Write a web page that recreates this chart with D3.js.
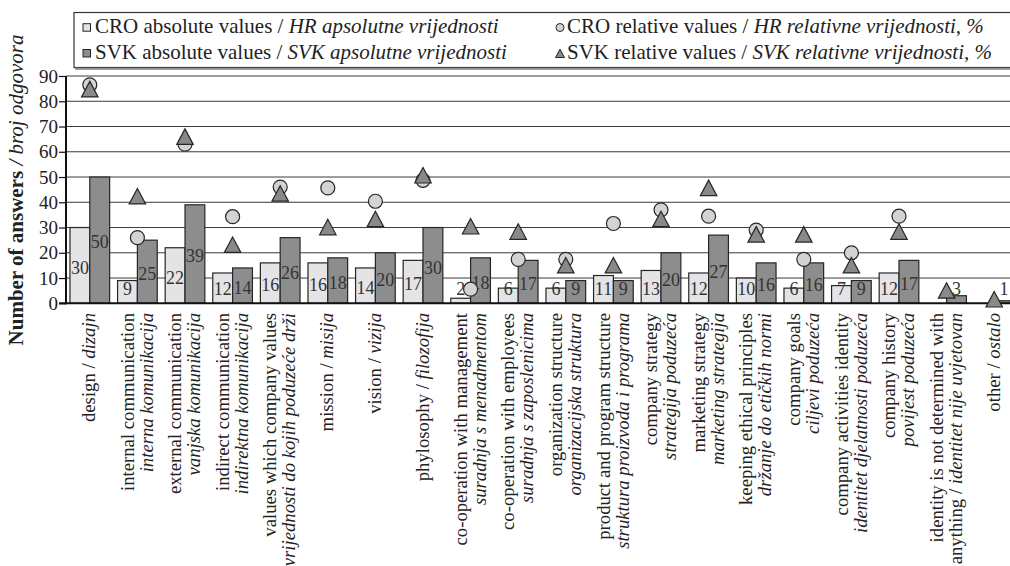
<!DOCTYPE html>
<html><head><meta charset="utf-8">
<script src="https://cdn.jsdelivr.net/npm/d3@7"></script>
<style>
body{margin:0;background:#fff}
svg{display:block}
text{font-family:"Liberation Serif","Times New Roman",serif;fill:#222}
</style>
</head><body>
<svg id="chart" width="1010" height="566"></svg>
<script>
// ---- data ----
const categories = ["design","internal communication","external communication","indirect communication","values","mission","vision","phylosophy","co-operation with management","co-operation with employees","organization structure","product and program structure","company strategy","marketing strategy","keeping ethical principles","company goals","company activities identity","company history","identity is not determined","other"];
// label lines; *...* marks italic (Croatian) text
const labelLine1 = ["design / *dizajn*","internal communication","external communication","indirect communication","values which company values","mission / *misija*","vision / *vizija*","phylosophy / *filozofija*","co-operation with management","co-operation with employees","organization structure","product and program structure","company strategy","marketing strategy","keeping ethical principles","company goals","company activities identity","company history","identity is not determined with","other / *ostalo*"];
const labelLine2 = ["","*interna komunikacija*","*vanjska komunikacija*","*indirektna komunikacija*","*vrijednosti do kojih poduzeće drži*","","","","*suradnja s menadmentom*","*suradnja s zaposlenicima*","*organizacijska struktura*","*struktura proizvoda i programa*","*strategija poduzeća*","*marketing strategija*","*držanje do etičkih normi*","*ciljevi poduzeća*","*identitet djelatnosti poduzeća*","*povijest poduzeća*","anything / *identitet nije uvjetovan*",""];
const croAbsolute = [30,9,22,12,16,16,14,17,2,6,6,11,13,12,10,6,7,12,0,0];
const svkAbsolute = [50,25,39,14,26,18,20,30,18,17,9,9,20,27,16,16,9,17,3,1];
const croRelative = [86.5,26,63,34.3,46,45.7,40.4,48.7,5.6,17.4,17.4,31.6,37,34.5,29,17.4,20,34.5,null,null];
const svkRelative = [84.8,42.4,66,23.2,43.5,30.2,33.4,50.7,30.5,28.4,15.1,15.1,33.4,45.7,27.3,27.3,15.1,28.4,5.1,1.6];
const yTicks = [0,10,20,30,40,50,60,70,80,90];
const seriesKeys = ["CRO","SVK"];
const legendLabels = [
  ["CRO absolute values / ","HR apsolutne vrijednosti"],
  ["SVK absolute values / ","SVK apsolutne vrijednosti"],
  ["CRO relative values / ","HR relativne vrijednosti, %"],
  ["SVK relative values / ","SVK relativne vrijednosti, %"]
];
const yTitle = ["Number of answers ","/ broj odgovora"];

// ---- layout ----
const svg = d3.select("#chart");
const mLeft = 66, mRight = 1018, mTop = 76, mBottom = 303.3;
const colCRO = "#e4e4e6", colSVK = "#8d8d8d", colCircle = "#d3d3d5", colTri = "#898989", strokeCol = "#262626";

const x = d3.scaleBand().domain(categories).range([mLeft, mRight]).padding(0);
const x1 = d3.scaleBand().domain(seriesKeys).range([0, x.bandwidth()]).paddingInner(0).paddingOuter(0.2);
const y = d3.scaleLinear().domain([0, 90]).range([mBottom, mTop]);

// gridlines
svg.append("g").selectAll("line").data(yTicks.filter(d => d > 0)).join("line")
  .attr("x1", mLeft).attr("x2", mRight).attr("y1", d => y(d)).attr("y2", d => y(d))
  .attr("stroke", "#3a3a3a").attr("stroke-width", 1);

// y axis
const yAxis = d3.axisLeft(y).tickValues(yTicks).tickSize(7).tickPadding(1).tickFormat(d3.format("d"));
const gy = svg.append("g").attr("transform", `translate(${mLeft},0)`).call(yAxis);
gy.select(".domain").remove();
gy.selectAll(".tick line").attr("stroke", "#111").attr("stroke-width", 1.2);
gy.selectAll(".tick text").attr("font-size", 19).attr("font-family", "Liberation Serif").attr("fill", "#222");
svg.append("line").attr("x1", mLeft).attr("x2", mLeft).attr("y1", mTop).attr("y2", mBottom + 1)
  .attr("stroke", "#111").attr("stroke-width", 2);

// bars
const bars = [];
categories.forEach((c, i) => {
  bars.push({c, k: "CRO", v: croAbsolute[i]});
  bars.push({c, k: "SVK", v: svkAbsolute[i]});
});
const gb = svg.append("g");
gb.selectAll("rect").data(bars.filter(d => d.v > 0)).join("rect")
  .attr("x", d => x(d.c) + x1(d.k))
  .attr("width", x1.bandwidth())
  .attr("y", d => y(d.v))
  .attr("height", d => y(0) - y(d.v))
  .attr("fill", d => d.k === "CRO" ? colCRO : colSVK)
  .attr("stroke", strokeCol).attr("stroke-width", 1.2);

// x axis line
svg.append("line").attr("x1", mLeft - 7).attr("x2", mRight).attr("y1", mBottom).attr("y2", mBottom)
  .attr("stroke", "#111").attr("stroke-width", 2);

// value labels
gb.selectAll("text").data(bars.filter(d => d.v > 0)).join("text")
  .attr("x", d => x(d.c) + x1(d.k) + x1.bandwidth() / 2)
  .attr("y", d => Math.min((y(d.v) + y(0)) / 2 + 2, 289))
  .attr("dy", "0.35em")
  .attr("text-anchor", "middle")
  .attr("font-size", 18)
  .style("fill", "#333")
  .text(d => d.v);

// markers
const cx = d => x(d.c) + x.bandwidth() / 2;
const circles = categories.map((c, i) => ({c, v: croRelative[i]})).filter(d => d.v !== null);
svg.append("g").selectAll("circle").data(circles).join("circle")
  .attr("cx", cx).attr("cy", d => y(d.v)).attr("r", 7)
  .attr("fill", colCircle).attr("stroke", strokeCol).attr("stroke-width", 1.2);
const tris = categories.map((c, i) => ({c, v: svkRelative[i]})).filter(d => d.v !== null);
const triPath = (w, h) => `M0,${-h/2}L${w/2},${h/2}L${-w/2},${h/2}Z`;
svg.append("g").selectAll("path").data(tris).join("path")
  .attr("transform", d => `translate(${cx(d)},${y(d.v)})`)
  .attr("d", triPath(16.5, 15.5))
  .attr("fill", colTri).attr("stroke", strokeCol).attr("stroke-width", 1.2);

// category labels
function addSegments(textSel, str) {
  const parts = str.split("*");
  parts.forEach((p, j) => {
    if (!p) return;
    textSel.append("tspan").attr("font-style", j % 2 === 1 ? "italic" : "normal").text(p);
  });
}
const fsX = 18.7;
categories.forEach((c, i) => {
  const cxp = x(c) + x.bandwidth() / 2;
  const g = svg.append("g").attr("transform", `translate(${cxp},313) rotate(-90)`);
  const two = labelLine2[i] !== "";
  const l1 = g.append("text").attr("text-anchor", "end").attr("font-size", fsX)
    .attr("x", 0).attr("y", two ? -3.9 : 5.6).style("fill", "#222");
  addSegments(l1, labelLine1[i]);
  if (two) {
    const l2 = g.append("text").attr("text-anchor", "end").attr("font-size", fsX)
      .attr("x", 0).attr("y", 15.1).style("fill", "#222");
    addSegments(l2, labelLine2[i]);
  }
});

// y title
const yt = svg.append("text").attr("transform", "translate(22.5,190) rotate(-90)")
  .attr("text-anchor", "middle").attr("font-size", 21);
yt.append("tspan").attr("font-weight", "bold").text(yTitle[0]);
yt.append("tspan").attr("font-style", "italic").text(yTitle[1]);

// legend
const lg = svg.append("g");
lg.append("rect").attr("x", 74).attr("y", 12.5).attr("width", 960).attr("height", 55)
  .attr("fill", "#fff").attr("stroke", "#333").attr("stroke-width", 1.2);
lg.append("line").attr("x1", 75).attr("x2", 1010).attr("y1", 68.8).attr("y2", 68.8)
  .attr("stroke", "#8a8a8a").attr("stroke-width", 2);
const legPos = [[95, 33.3], [95, 59.3], [567, 33.3], [567, 59.3]];
legendLabels.forEach((lab, i) => {
  const t = lg.append("text").attr("x", legPos[i][0]).attr("y", legPos[i][1]).attr("font-size", 21);
  t.append("tspan").text(lab[0]);
  t.append("tspan").attr("font-style", "italic").text(lab[1]);
});
lg.append("rect").attr("x", 83).attr("y", 23.7).attr("width", 7.5).attr("height", 7.5)
  .attr("fill", colCRO).attr("stroke", strokeCol).attr("stroke-width", 1);
lg.append("rect").attr("x", 83).attr("y", 49.5).attr("width", 7.5).attr("height", 7.5)
  .attr("fill", colSVK).attr("stroke", strokeCol).attr("stroke-width", 1);
lg.append("circle").attr("cx", 560).attr("cy", 27.5).attr("r", 4)
  .attr("fill", colCircle).attr("stroke", strokeCol).attr("stroke-width", 1);
lg.append("path").attr("transform", "translate(560,53.3)").attr("d", triPath(9, 8.5))
  .attr("fill", colTri).attr("stroke", strokeCol).attr("stroke-width", 1);
</script>
</body></html>
